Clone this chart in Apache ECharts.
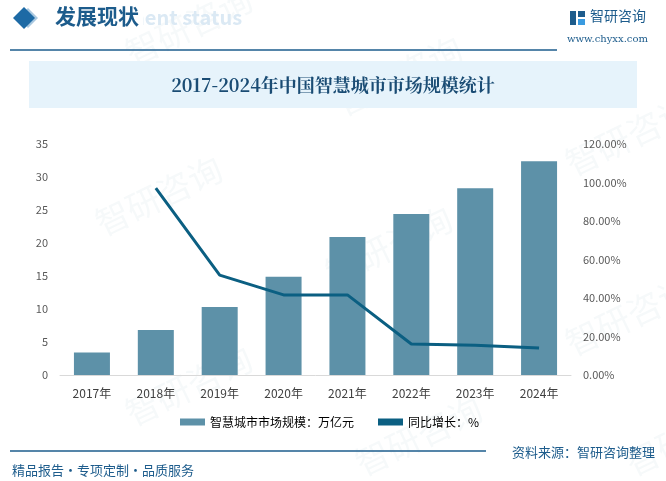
<!DOCTYPE html>
<html>
<head>
<meta charset="utf-8">
<script src="https://cdn.jsdelivr.net/npm/echarts@6/dist/echarts.min.js"></script>
<style>
html, body { margin: 0; padding: 0; background: #fff; }
#chart { width: 666px; height: 481px; }
</style>
</head>
<body>
<div id="chart"></div>
<script>
// 数据
var years = ["2017年", "2018年", "2019年", "2020年", "2021年", "2022年", "2023年", "2024年"];
var marketSize = [3.4, 6.8, 10.3, 14.9, 20.9, 24.4, 28.3, 32.4];
var growthRate = [null, 97.1, 51.9, 41.6, 41.6, 16.1, 15.4, 14.0];

var darkBlue = "#1d5c8c";
var font = "'Noto Sans CJK SC', 'Noto Sans', sans-serif";

var myChart = echarts.init(document.getElementById("chart"));

// 水印
var marks = [];
var spots = [[120, 40], [330, 90], [560, 150], [90, 210], [320, 260], [560, 330], [120, 400], [350, 450], [620, 450]];
for (var i = 0; i < spots.length; i++) {
    marks.push({
        type: "text", x: spots[i][0], y: spots[i][1], rotation: Math.PI / 7, z: 0,
        style: { text: "智研咨询", font: "34px " + font, fill: "rgba(30,90,140,0.04)" }
    });
}

var option = {
    animation: false,
    textStyle: { fontFamily: font },
    grid: { left: 60, right: 95, top: 144, bottom: 106 },
    legend: {
        bottom: 48,
        left: 175,
        itemWidth: 25,
        itemHeight: 7,
        itemGap: 24,
        textStyle: { fontSize: 12, color: "#000" },
        data: [
            { name: "智慧城市市场规模：万亿元", icon: "rect" },
            { name: "同比增长：%", icon: "rect", itemStyle: { color: "#0b5f82" } }
        ]
    },
    xAxis: {
        type: "category",
        data: years,
        axisLine: { lineStyle: { color: "#d9d9d9" } },
        axisTick: { show: false },
        axisLabel: { color: "#404040", fontSize: 12, margin: 12 }
    },
    yAxis: [{
        type: "value",
        min: 0, max: 35, interval: 5,
        splitLine: { show: false },
        axisLine: { show: false },
        axisLabel: { color: "#595959", fontSize: 11, margin: 12 }
    }, {
        type: "value",
        min: 0, max: 120, interval: 20,
        splitLine: { show: false },
        axisLine: { show: false },
        axisLabel: {
            color: "#595959", fontSize: 11, margin: 12,
            formatter: function (v) { return v.toFixed(2) + "%"; }
        }
    }],
    series: [{
        name: "智慧城市市场规模：万亿元",
        type: "bar",
        data: marketSize,
        barWidth: 36,
        itemStyle: { color: "#5d91a8" }
    }, {
        name: "同比增长：%",
        type: "line",
        yAxisIndex: 1,
        data: growthRate,
        symbol: "none",
        lineStyle: { color: "#0b5f82", width: 3 },
        itemStyle: { color: "#0b5f82" }
    }],
    graphic: marks.concat([
        // 顶部标题栏
        { type: "text", x: 45, y: 7, style: { text: "Development status", font: "bold 20px " + font, fill: "#dbe9f4" } },
        { type: "polygon", shape: { points: [[28, 8], [38, 18], [28, 28], [18, 18]] }, style: { fill: "#a9c8e0" } },
        { type: "polygon", shape: { points: [[24, 7], [35, 18], [24, 29], [13, 18]] }, style: { fill: "#1d6aa5" } },
        { type: "rect", shape: { x: 45, y: 5, width: 98, height: 28 }, style: { fill: "#fff" } },
        { type: "text", x: 55, y: 6, style: { text: "发展现状", font: "bold 21px 'Noto Sans CJK SC'", fill: darkBlue } },
        { type: "line", shape: { x1: 10, y1: 50, x2: 557, y2: 50 }, style: { stroke: darkBlue, lineWidth: 1.5 } },
        { type: "rect", shape: { x: 570, y: 11, width: 6, height: 14 }, style: { fill: "#1d5c8c" } },
        { type: "rect", shape: { x: 578, y: 11, width: 7, height: 6 }, style: { fill: "#1d5c8c" } },
        { type: "rect", shape: { x: 578, y: 19, width: 7, height: 6 }, style: { fill: "#3a9be0" } },
        { type: "text", x: 590, y: 9, style: { text: "智研咨询", font: "14px " + font, fill: darkBlue } },
        { type: "text", x: 567, y: 34, style: { text: "www.chyxx.com", font: "10px 'DejaVu Serif', serif", fill: darkBlue } },
        // 图表标题
        { type: "rect", shape: { x: 29, y: 61, width: 608, height: 47 }, style: { fill: "#e6f3fb" } },
        { type: "text", x: 333, y: 85, style: { text: "2017-2024年中国智慧城市市场规模统计", font: "bold 18px 'Noto Serif CJK SC', 'DejaVu Serif', serif", fill: "#1a4c74", align: "center", verticalAlign: "middle" } },
        // 底部
        { type: "line", shape: { x1: 10, y1: 451, x2: 486, y2: 451 }, style: { stroke: darkBlue, lineWidth: 1.5 } },
        { type: "text", x: 655, y: 452, style: { text: "资料来源：智研咨询整理", font: "13px " + font, fill: darkBlue, align: "right", verticalAlign: "middle" } },
        { type: "text", x: 12, y: 470, style: { text: "精品报告・专项定制・品质服务", font: "13px " + font, fill: darkBlue, verticalAlign: "middle" } }
    ])
};

myChart.setOption(option);
</script>
</body>
</html>
